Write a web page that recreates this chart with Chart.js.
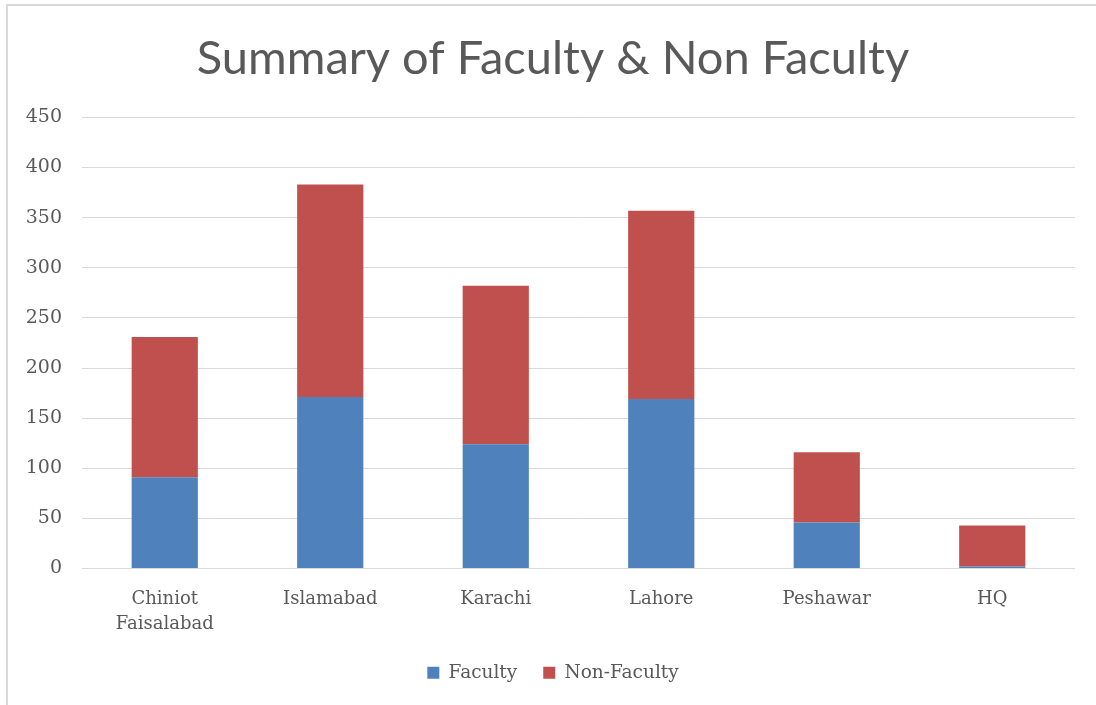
<!DOCTYPE html>
<html lang="en">
<head>
  <meta charset="utf-8" />
  <title>Summary of Faculty & Non Faculty</title>
  <script src="https://cdn.jsdelivr.net/npm/chart.js@4.4.1/dist/chart.umd.min.js"></script>
  <style>
    * { margin: 0; padding: 0; box-sizing: border-box; }
    body { width: 1096px; height: 705px; background: #fff; position: relative; overflow: hidden; }
    .frame {
      position: absolute;
      left: 6px;
      top: 4px;
      width: 1090px;
      height: 701px;
      border-top: 2px solid #d9d9d9;
      border-left: 2px solid #d9d9d9;
    }
    .box { position: absolute; left: 8px; top: 5px; width: 1090px; height: 695px; }
  </style>
</head>
<body>
  <div class="frame"></div>
  <div class="box"><canvas id="chart"></canvas></div>
  <script>
    // data
    const campuses = [["Chiniot", "Faisalabad"], "Islamabad", "Karachi", "Lahore", "Peshawar", "HQ"];
    const faculty = [91, 171, 124, 169, 46, 2];
    const nonFaculty = [140, 212, 158, 188, 70, 41];

    const textColor = "#595959";
    const gridColor = "#d9d9d9";
    const serif = "'DejaVu Serif', serif";

    new Chart(document.getElementById("chart"), {
      type: "bar",
      data: {
        labels: campuses,
        datasets: [
          { label: "Faculty", data: faculty, backgroundColor: "#4f81bd", barPercentage: 0.4, categoryPercentage: 1 },
          { label: "Non-Faculty", data: nonFaculty, backgroundColor: "#c0504d", barPercentage: 0.4, categoryPercentage: 1 }
        ]
      },
      options: {
        responsive: true,
        maintainAspectRatio: false,
        animation: false,
        layout: { padding: { left: 0, right: 0, top: 0, bottom: 8 } },
        plugins: {
          title: {
            display: true,
            text: "Summary of Faculty & Non Faculty",
            color: textColor,
            font: { family: "Lato, sans-serif", size: 47, weight: "normal" },
            padding: { top: 26, bottom: 30 }
          },
          legend: {
            position: "bottom",
            labels: {
              color: textColor,
              font: { family: serif, size: 18.5 },
              boxWidth: 12,
              boxHeight: 12,
              padding: 26
            }
          },
          tooltip: { enabled: false }
        },
        scales: {
          x: {
            stacked: true,
            grid: { display: false, drawTicks: false },
            border: { display: false },
            ticks: { color: textColor, font: { family: serif, size: 18, lineHeight: 1.4 }, padding: 18, maxRotation: 0 },
            afterFit: (s) => { s.height = 69; }
          },
          y: {
            stacked: true,
            min: 0,
            max: 450,
            grid: { color: gridColor, lineWidth: 1, drawTicks: false },
            border: { display: false },
            ticks: { stepSize: 50, color: textColor, font: { family: serif, size: 19 }, padding: 20 },
            afterFit: (s) => { s.width = 74; }
          },
          // empty strip on the right so the plot stops short of the frame
          gap: {
            type: "linear",
            position: "right",
            grid: { display: false, drawTicks: false },
            border: { display: false },
            ticks: { display: false },
            afterFit: (s) => { s.width = 23; }
          }
        }
      }
    });
  </script>
</body>
</html>
